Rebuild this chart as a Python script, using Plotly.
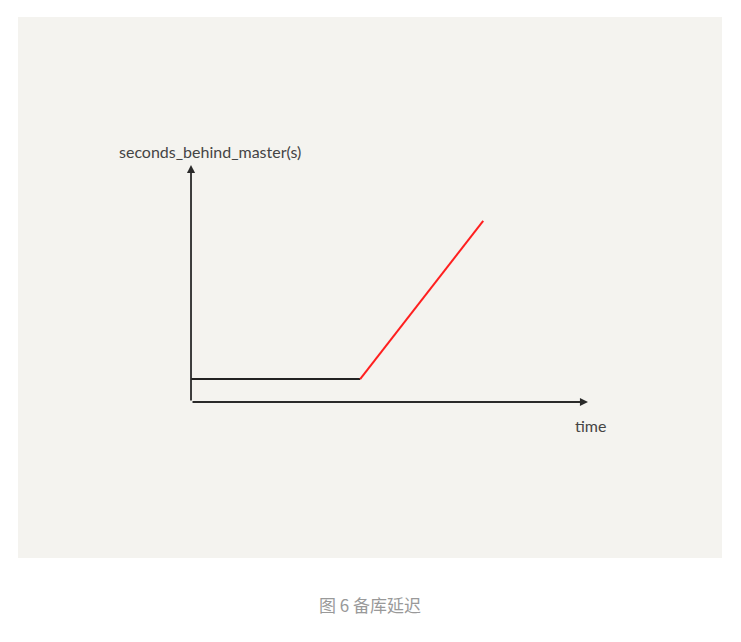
import plotly.graph_objects as go

# Data (time units, seconds_behind_master units)
normal_time = [0.0, 4.26]
normal_delay = [0.97, 0.97]
lag_time = [4.26, 7.36]
lag_delay = [0.97, 7.64]
x_axis_end = 10.0
y_axis_end = 10.0
y_label = "seconds_behind_master(s)"
x_label = "time"
caption = "图 6 备库延迟"

fig = go.Figure()
fig.add_trace(go.Scatter(x=normal_time, y=normal_delay, mode="lines",
                         line=dict(color="#222222", width=2), hoverinfo="skip"))
fig.add_trace(go.Scatter(x=lag_time, y=lag_delay, mode="lines",
                         line=dict(color="#ff1f1f", width=2), hoverinfo="skip"))

axis_color = "#2a2a2a"
annotations = [
    dict(x=x_axis_end, y=0, ax=0, ay=0, xref="x", yref="y", axref="x", ayref="y",
         text="", showarrow=True, arrowhead=2, arrowsize=0.9, arrowwidth=1.8,
         arrowcolor=axis_color),
    dict(x=0, y=y_axis_end, ax=0, ay=0, xref="x", yref="y", axref="x", ayref="y",
         text="", showarrow=True, arrowhead=2, arrowsize=0.9, arrowwidth=1.8,
         arrowcolor=axis_color),
    dict(x=0.49, y=10.55, xref="x", yref="y", text=y_label, showarrow=False,
         font=dict(family="Lato", size=16, color="#444444"), xanchor="center", yanchor="middle"),
    dict(x=10.05, y=-0.97, xref="x", yref="y", text=x_label, showarrow=False,
         font=dict(family="Lato", size=16, color="#444444"), xanchor="center", yanchor="middle"),
    dict(x=(370 - 18) / 704, y=(558 - 604) / 541, xref="paper", yref="paper", text=caption,
         showarrow=False, font=dict(family="Noto Sans CJK SC", size=17, color="#999999"),
         xanchor="center", yanchor="middle"),
]

fig.update_layout(
    width=741, height=642,
    margin=dict(l=18, r=19, t=17, b=84),
    paper_bgcolor="#ffffff",
    plot_bgcolor="#f4f3ef",
    showlegend=False,
    annotations=annotations,
    xaxis=dict(range=[-4.358, 13.375], visible=False, fixedrange=True),
    yaxis=dict(range=[-6.582, 16.245], visible=False, fixedrange=True),
)

fig.write_html("out.html")
